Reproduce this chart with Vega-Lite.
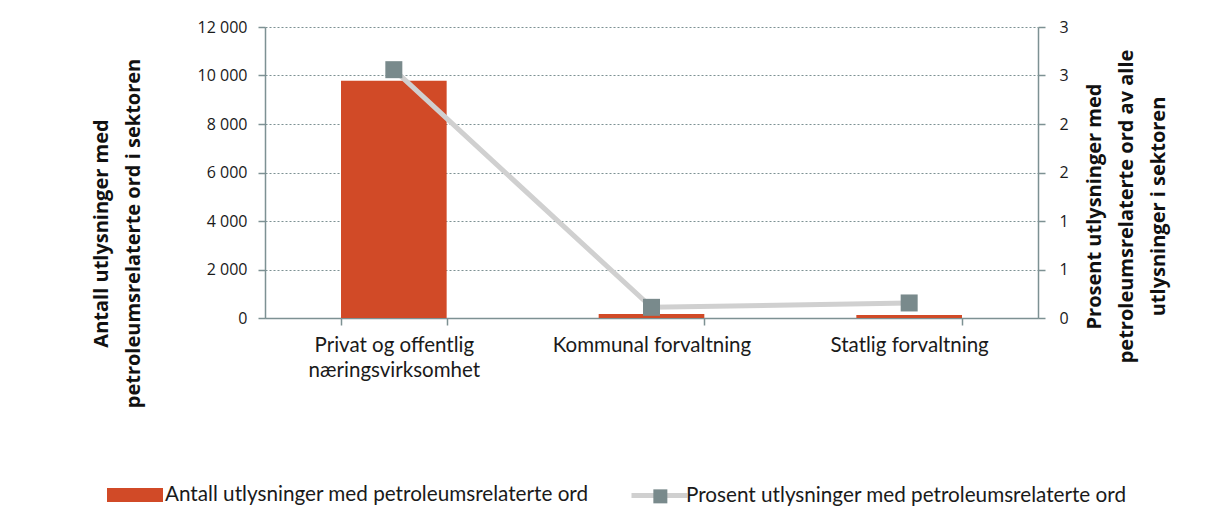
{
  "$schema": "https://vega.github.io/schema/vega-lite/v6.json",
  "width": 773,
  "height": 291,
  "autosize": {"type": "none"},
  "padding": {"left": 265, "top": 27, "right": 168, "bottom": 208},
  "background": "white",
  "config": {
    "font": "Open Sans",
    "view": {"stroke": null},
    "axis": {
      "domainColor": "#7D9193",
      "domainWidth": 1.5,
      "tickColor": "#7D9193",
      "tickWidth": 1.5,
      "tickSize": 7,
      "labelFont": "Open Sans",
      "labelFontSize": 16,
      "labelColor": "#1a1a1a",
      "titleFont": "Open Sans",
      "titleFontSize": 20,
      "titleFontWeight": "bold",
      "titleColor": "#111111",
      "titleLineHeight": 32
    },
    "legend": {
      "labelFont": "Lato",
      "labelFontSize": 20.7,
      "labelColor": "#1a1a1a",
      "labelLimit": 0,
      "padding": 0,
      "title": null
    }
  },
  "data": {
    "values": [
      {"sektor": "Privat og offentlig næringsvirksomhet", "antall": 9780, "prosent": 2.56},
      {"sektor": "Kommunal forvaltning", "antall": 165, "prosent": 0.11},
      {"sektor": "Statlig forvaltning", "antall": 120, "prosent": 0.155}
    ]
  },
  "encoding": {
    "x": {
      "field": "sektor",
      "type": "nominal",
      "sort": null,
      "scale": {"paddingInner": 0.59, "paddingOuter": 0.295},
      "axis": {
        "title": null,
        "labelAngle": 0,
        "labelFont": "Lato",
        "labelFontSize": 20.5,
        "labelLimit": 0,
        "labelOverlap": false,
        "tickBand": "extent",
        "labelPadding": 10,
        "labelLineHeight": 25,
        "labelExpr": "datum.value == 'Privat og offentlig næringsvirksomhet' ? ['Privat og offentlig', 'næringsvirksomhet'] : datum.value"
      }
    }
  },
  "layer": [
    {
      "mark": {"type": "bar"},
      "encoding": {
        "y": {
          "field": "antall",
          "type": "quantitative",
          "scale": {"domain": [0, 12000]},
          "axis": {
            "values": [0, 2000, 4000, 6000, 8000, 10000, 12000],
            "labelExpr": "replace(format(datum.value, ',d'), ',', ' ')",
            "labelPadding": 11,
            "grid": true,
            "gridDash": [2, 2],
            "gridColor": "#7D9193",
            "gridWidth": 1.2,
            "title": ["Antall utlysninger med", "petroleumsrelaterte ord i sektoren"],
            "titleAngle": 270,
            "titleAlign": "center",
            "titleBaseline": "top",
            "titleX": -174,
            "titleY": 206
          }
        },
        "fill": {
          "datum": "Antall utlysninger med petroleumsrelaterte ord",
          "type": "nominal",
          "scale": {"range": ["#D14A27"]},
          "legend": {
            "orient": "none",
            "legendX": -158,
            "legendY": 440,
            "symbolType": "M-1,-0.25H1V0.25H-1Z",
            "symbolSize": 3136,
            "symbolStrokeWidth": 0,
            "labelOffset": 2
          }
        }
      }
    },
    {
      "encoding": {
        "y": {
          "field": "prosent",
          "type": "quantitative",
          "scale": {"domain": [0, 3]},
          "axis": {
            "orient": "right",
            "values": [0, 0.5, 1, 1.5, 2, 2.5, 3],
            "labelExpr": "round(datum.value)",
            "labelPadding": 14,
            "grid": false,
            "title": ["Prosent utlysninger med", "petroleumsrelaterte ord av alle", "utlysninger i sektoren"],
            "titleAngle": 270,
            "titleAlign": "center",
            "titleBaseline": "top",
            "titleX": 46,
            "titleY": 179
          }
        }
      },
      "layer": [
        {
          "mark": {"type": "line", "strokeWidth": 5},
          "encoding": {
            "stroke": {
              "datum": "Prosent utlysninger med petroleumsrelaterte ord",
              "type": "nominal",
              "scale": {"range": ["#D0D0D0"]},
              "legend": {
                "orient": "none",
                "legendX": 364,
                "legendY": 438,
                "symbolType": "stroke",
                "symbolSize": 3136,
                "symbolStrokeWidth": 5,
                "labelOffset": -4
              }
            }
          }
        },
        {
          "mark": {"type": "point", "filled": true, "size": 289, "opacity": 1, "color": "#798A8C"},
          "encoding": {
            "shape": {
              "datum": "markør",
              "type": "nominal",
              "scale": {"range": ["square"]},
              "legend": {
                "orient": "none",
                "legendX": 385,
                "legendY": 459,
                "symbolType": "square",
                "symbolSize": 196,
                "symbolFillColor": "#798A8C",
                "symbolStrokeWidth": 0,
                "symbolOpacity": 1,
                "labelExpr": "''"
              }
            }
          }
        }
      ]
    }
  ],
  "resolve": {"scale": {"y": "independent"}}
}
